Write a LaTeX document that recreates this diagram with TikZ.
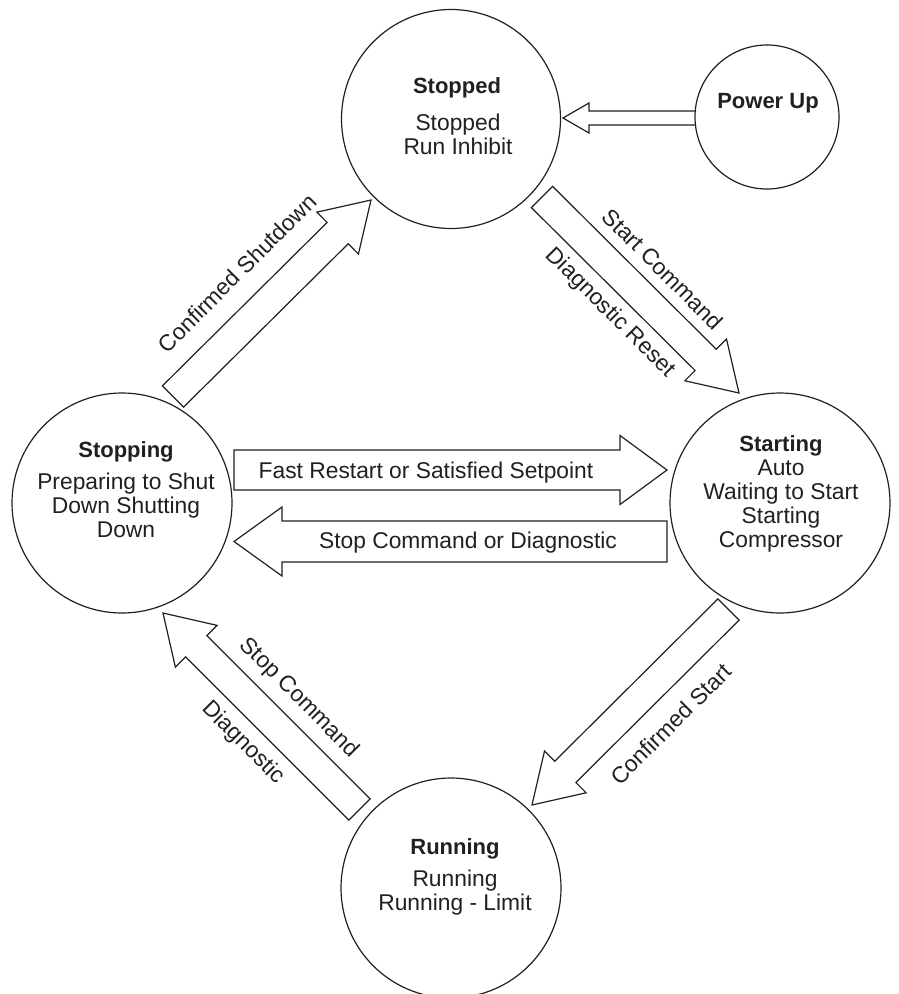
\documentclass[tikz,border=0pt]{standalone}
\usepackage{fontspec}
\setmainfont{Liberation Sans}
\usetikzlibrary{calc}
\definecolor{ink}{HTML}{231F20}
\tikzset{
  state/.style={circle, draw=ink, line width=1.2pt, inner sep=0pt},
  title/.style={font=\bfseries\fontsize{22}{24}\selectfont, text=ink, inner sep=0pt, anchor=base},
  body/.style={font=\fontsize{22.8}{24}\selectfont, text=ink, align=center, inner sep=0pt, anchor=base},
  lbl/.style={font=\fontsize{22.8}{24}\selectfont, text=ink, inner sep=0pt},
  arrowline/.style={draw=ink, line width=1.2pt, line join=miter},
}
% tail, tip, shaft half width, head half width, head length, closing
\newcommand\blockarrow[6]{%
  \coordinate (hb) at ($(#2)!#5!(#1)$);
  \draw[arrowline] ($(#1)!#3!90:(#2)$) -- ($(hb)!#3!90:(#2)$) -- ($(hb)!#4!90:(#2)$) -- (#2)
    -- ($(hb)!#4!-90:(#2)$) -- ($(hb)!#3!-90:(#2)$) -- ($(#1)!#3!-90:(#2)$) #6;
}
\begin{document}
\begin{tikzpicture}[x=1pt, y=-1pt]
\useasboundingbox (0,0) rectangle (899,994);
% states
\node[state, minimum size=219pt] (stopped) at (451,119) {};
\node[state, minimum size=144pt] (powerup) at (767,117) {};
\node[state, minimum size=220pt] (stopping) at (122,503) {};
\node[state, minimum size=220pt] (starting) at (780,503) {};
\node[state, minimum size=220pt] (running) at (451,888) {};
% state texts (body nodes are placed at the baseline of their last line)
\node[title] (stopped-t) at (457,93) {Stopped};
\node[body] (stopped-b) at (458,154) {Stopped\\Run Inhibit};
\node[title] (powerup-t) at (768,108) {Power Up};
\node[title] (stopping-t) at (126,457) {Stopping};
\node[body] (stopping-b) at (126,537) {Preparing to Shut\\Down Shutting\\Down};
\node[title] (starting-t) at (781,451) {Starting};
\node[body] (starting-b) at (781,547) {Auto\\Waiting to Start\\Starting\\Compressor};
\node[title] (running-t) at (455,854) {Running};
\node[body] (running-b) at (455,910) {Running\\Running - Limit};
% arrow end points
\coordinate (pu-tail) at (696,118);   \coordinate (pu-tip) at (563,118);
\coordinate (fr-tail) at (234,470);   \coordinate (fr-tip) at (667,470);
\coordinate (sc-tail) at (667,541.5); \coordinate (sc-tip) at (234,541.5);
\coordinate (cs-tail) at (173,396.5); \coordinate (cs-tip) at (371,200);
\coordinate (st-tail) at (542,197);   \coordinate (st-tip) at (739,393);
\coordinate (cf-tail) at (728.5,609.5); \coordinate (cf-tip) at (532,805);
\coordinate (sd-tail) at (359.5,809.5); \coordinate (sd-tip) at (163,613);
% arrows
\blockarrow{pu-tail}{pu-tip}{7pt}{15pt}{26pt}{}
\blockarrow{fr-tail}{fr-tip}{20pt}{34.5pt}{47pt}{-- cycle}
\blockarrow{sc-tail}{sc-tip}{20.5pt}{34.5pt}{48pt}{-- cycle}
\blockarrow{cs-tail}{cs-tip}{15pt}{29.5pt}{47pt}{-- cycle}
\blockarrow{st-tail}{st-tip}{15pt}{29.5pt}{47pt}{-- cycle}
\blockarrow{cf-tail}{cf-tip}{15pt}{29.5pt}{47pt}{-- cycle}
\blockarrow{sd-tail}{sd-tip}{15pt}{29.5pt}{47pt}{-- cycle}
% arrow labels
\node[lbl, anchor=base] (fr-l) at (426,478) {Fast Restart or Satisfied Setpoint};
\node[lbl, anchor=base] (sc-l) at (468,548) {Stop Command or Diagnostic};
\node[lbl, rotate=45] (cs-l) at (237,273) {Confirmed Shutdown};
\node[lbl, rotate=-45] (st-l1) at (663,269) {Start Command};
\node[lbl, rotate=-45] (st-l2) at (610,313) {Diagnostic Reset};
\node[lbl, rotate=45] (cf-l) at (671,724) {Confirmed Start};
\node[lbl, rotate=-45] (sd-l1) at (299,698) {Stop Command};
\node[lbl, rotate=-45] (sd-l2) at (243,743) {Diagnostic};
\end{tikzpicture}
\end{document}
